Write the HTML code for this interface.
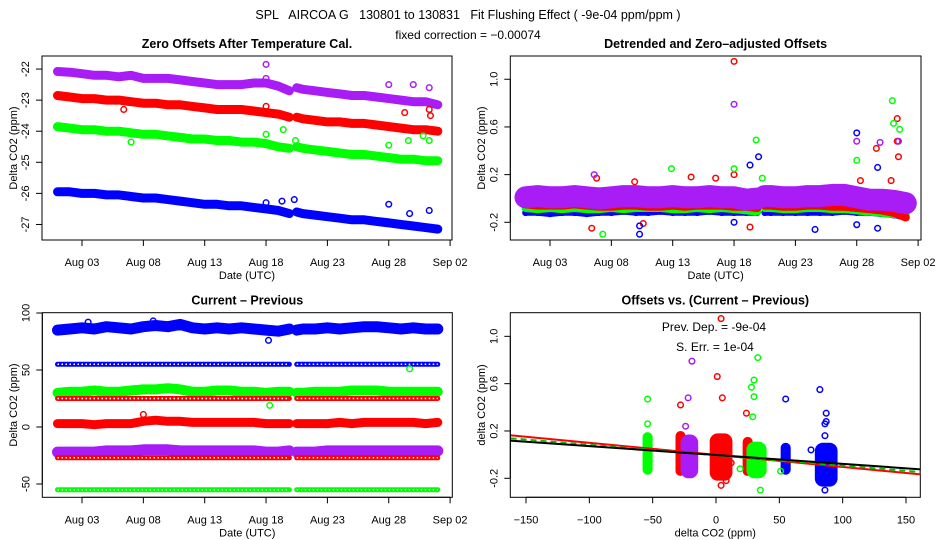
<!DOCTYPE html>
<html><head><meta charset="utf-8"><style>
body{margin:0;background:#fff}
svg{display:block;font-family:"Liberation Sans",sans-serif}
.t{font-size:11px}
.h{font-size:12.5px;font-weight:bold}
</style></head><body>
<svg id="c" width="936" height="540" viewBox="0 0 936 540">
<text x="468" y="19" text-anchor="middle" font-size="12.5" xml:space="preserve">SPL   AIRCOA G   130801 to 130831   Fit Flushing Effect ( -9e-04 ppm/ppm )</text>
<text x="468" y="39" text-anchor="middle" font-size="12">fixed correction = −0.00074</text>
</svg>
<script>
const T=[0,1,2,3,4,5,6,7,8,9,10,11,12,13,14,15,16,17,18,18.9,19.5,20,21,22,23,24,25,26,27,28,29,30,31];
const GAP_START=18.95;
const p1Purple=[-22.08,-22.1,-22.15,-22.2,-22.2,-22.25,-22.2,-22.3,-22.3,-22.3,-22.35,-22.4,-22.45,-22.5,-22.5,-22.5,-22.45,-22.45,-22.55,-22.7,-22.6,-22.65,-22.7,-22.75,-22.8,-22.85,-22.85,-22.9,-22.95,-23.0,-23.05,-23.05,-23.15];
const p1Red=[-22.85,-22.9,-22.95,-22.95,-23.0,-23.0,-23.05,-23.1,-23.1,-23.15,-23.15,-23.2,-23.25,-23.3,-23.3,-23.3,-23.35,-23.4,-23.45,-23.55,-23.55,-23.6,-23.65,-23.7,-23.7,-23.75,-23.75,-23.8,-23.85,-23.9,-23.95,-23.95,-24.0];
const p1Green=[-23.85,-23.9,-23.95,-23.95,-24.0,-24.0,-24.05,-24.1,-24.1,-24.15,-24.2,-24.25,-24.25,-24.3,-24.3,-24.35,-24.35,-24.4,-24.5,-24.55,-24.5,-24.55,-24.6,-24.65,-24.7,-24.75,-24.75,-24.8,-24.85,-24.9,-24.9,-24.95,-24.95];
const p1Blue=[-25.95,-25.95,-26.0,-26.0,-26.05,-26.05,-26.1,-26.15,-26.15,-26.2,-26.25,-26.3,-26.35,-26.35,-26.4,-26.4,-26.45,-26.5,-26.55,-26.65,-26.6,-26.65,-26.7,-26.75,-26.8,-26.85,-26.85,-26.9,-26.95,-27.0,-27.05,-27.1,-27.15];
const p1OutT=[17,17,27,29,30.3,28.3,30.3,30.4,5.4,17,6,17,18.4,27,28.6,29.8,30.3,19.4,17,18.3,19.3,27,28.7,30.3];
const p1OutV=[-21.85,-22.3,-22.5,-22.5,-22.6,-23.4,-23.3,-23.5,-23.3,-23.2,-24.35,-24.1,-23.95,-24.45,-24.3,-24.15,-24.3,-24.3,-26.3,-26.25,-26.2,-26.35,-26.65,-26.55];
const p1OutC=["p","p","p","p","p","r","r","r","r","r","g","g","g","g","g","g","g","g","b","b","b","b","b","b"];
const p2Blue=[-0.12,-0.12,-0.13,-0.12,-0.12,-0.13,-0.12,-0.12,-0.11,-0.12,-0.12,-0.11,-0.12,-0.12,-0.12,-0.11,-0.12,-0.12,-0.12,-0.12,-0.12,-0.12,-0.12,-0.12,-0.12,-0.12,-0.12,-0.11,-0.12,-0.12,-0.13,-0.14,-0.16];
const p2Green=[-0.08,-0.09,-0.08,-0.09,-0.08,-0.09,-0.09,-0.08,-0.09,-0.08,-0.08,-0.08,-0.09,-0.09,-0.08,-0.09,-0.08,-0.09,-0.1,-0.11,-0.08,-0.08,-0.09,-0.09,-0.08,-0.08,-0.09,-0.09,-0.1,-0.11,-0.12,-0.13,-0.14];
const p2Red=[-0.05,-0.06,-0.06,-0.06,-0.05,-0.06,-0.07,-0.07,-0.06,-0.06,-0.07,-0.07,-0.06,-0.07,-0.06,-0.06,-0.06,-0.07,-0.07,-0.08,-0.06,-0.06,-0.07,-0.07,-0.06,-0.06,-0.07,-0.07,-0.08,-0.09,-0.1,-0.12,-0.16];
const p2Purple=[0.01,0.02,0.01,0.01,0.02,0.01,0.0,0.01,0.02,0.02,0.01,0.01,0.02,0.01,0.01,0.02,0.01,0.01,-0.01,0.0,0.02,0.02,0.01,0.01,0.02,0.02,0.03,0.03,0.01,-0.01,-0.01,-0.02,-0.04];
const p2OutT=[17,17,18.3,5.4,5.8,8.9,13.5,15.5,27.3,28.6,29.8,30.3,30.3,30.4,9.6,17,27,28.9,30.4,5.6,17,18.8,29.9,30,30.5,27,11.9,6.3,19.3,19,18.3,27,28.7,28.7,27,9.3,9.3,23.6,17];
const p2OutV=[1.15,0.2,-0.24,-0.25,0.17,0.14,0.18,0.17,0.15,0.42,0.15,0.67,0.48,0.35,-0.21,0.79,0.48,0.47,0.48,0.2,0.25,0.49,0.82,0.63,0.58,0.32,0.25,-0.3,0.17,0.35,0.28,0.55,0.26,-0.25,-0.22,-0.3,-0.23,-0.26,-0.2];
const p2OutC=["r","r","r","r","r","r","r","r","r","r","r","r","r","r","r","p","p","p","p","p","g","g","g","g","g","g","g","g","g","b","b","b","b","b","b","b","b","b","b"];
const p3BlueNoisy=[85,86,87,86,88,87,86,88,89,88,90,87,86,87,86,87,86,85,84,86,85,86,86,87,86,87,88,88,87,86,87,86,86];
const p3BlueConst=[55,55,55,55,55,55,55,55,55,55,55,55,55,55,55,55,55,55,55,55,55,55,55,55,55,55,55,55,55,55,55,55,55];
const p3GreenNoisy=[30,31,31,32,31,31,32,33,33,34,33,31,31,32,32,31,31,30,31,31,30,30,31,31,31,32,32,32,31,31,31,31,31];
const p3RedConst=[25,25,25,25,25,25,25,25,25,25,25,25,25,25,25,25,25,25,25,25,25,25,25,25,25,25,25,25,25,25,25,25,25];
const p3RedNoisy=[3,3,3,2,3,3,3,5,6,5,5,4,4,4,4,4,4,3,3,3,3,3,3,3,4,3,4,4,4,4,4,3,4];
const p3Purple=[-22,-22,-22,-22,-21,-21,-21,-20,-20,-20,-21,-21,-21,-21,-21,-21,-21,-22,-22,-21,-22,-22,-22,-21,-21,-21,-21,-21,-21,-21,-21,-21,-21];
const p3RedConst2=[-27,-27,-27,-27,-27,-27,-27,-27,-27,-27,-27,-27,-27,-27,-27,-27,-27,-27,-27,-27,-27,-27,-27,-27,-27,-27,-27,-27,-27,-27,-27,-27,-27];
const p3GreenConst=[-55,-55,-55,-55,-55,-55,-55,-55,-55,-55,-55,-55,-55,-55,-55,-55,-55,-55,-55,-55,-55,-55,-55,-55,-55,-55,-55,-55,-55,-55,-55,-55,-55];
const p3OutT=[2.5,7.8,17.2,17.3,28.7,7.0];
const p3OutV=[92,93,76,19,51,11];
const p3OutC=["b","b","b","g","g","r"];
const p4ClX=[-54,-28,-21,4,25,32,55,87];
const p4ClMin=[-0.17,-0.18,-0.2,-0.22,-0.18,-0.2,-0.17,-0.27];
const p4ClMax=[0.19,0.2,0.17,0.18,0.15,0.11,0.1,0.1];
const p4ClW=[2,2,5,7,2,6,2,7];
const p4ClC=["g","r","p","r","r","g","b","b"];
const p4OutX=[-54,-54,33,30,28,30,29,35,19,51,-19,-22,-24,4,1,5,-28,24,4,8,12,55,82,87,87,86,86,86,75];
const p4OutV=[0.47,0.26,0.82,0.63,0.57,0.49,0.32,-0.3,-0.12,-0.14,0.79,0.48,0.24,1.15,0.66,0.48,0.42,0.35,-0.26,-0.22,-0.07,0.47,0.55,0.35,0.28,0.26,0.16,-0.3,0.04];
const p4OutC=["g","g","g","g","g","g","g","g","g","g","p","p","p","r","r","r","r","r","r","r","r","b","b","b","b","b","b","b","b"];
const fitSlopes=[-0.00102,-0.00088,-0.00075];
const fitIntercepts=[-0.002,-0.005,-0.003];
const fitColors=["red","#00c000","black"];

const COL={r:"#ff0000",g:"#00ff00",b:"#0000ff",p:"#a81cf6"};
const NS="http://www.w3.org/2000/svg";
const svg=document.getElementById("c");
function el(tag,attrs,parent){const e=document.createElementNS(NS,tag);for(const k in attrs)e.setAttribute(k,attrs[k]);(parent||svg).appendChild(e);return e;}
function txt(s,attrs,parent){const e=el("text",attrs,parent);e.textContent=s;return e;}
function panel(name,L,R,Tp,B,title,xmin,xmax,ymin,ymax){
  const g=el("g",{});
  
  
  const cid=name+"-clip";
  const cp=el("clipPath",{id:cid},g);el("rect",{x:L,y:Tp,width:R-L,height:B-Tp},cp);
  const sx=v=>L+(v-xmin)/(xmax-xmin)*(R-L), sy=v=>B-(v-ymin)/(ymax-ymin)*(B-Tp);
  const t=txt(title,{x:(L+R)/2,y:Tp-8,"text-anchor":"middle","class":"h"},g);
  
  
  const fr=el("rect",{x:L,y:Tp,width:R-L,height:B-Tp,fill:"none",stroke:"#000","stroke-width":1},g);
  
  
  const plot=el("g",{"clip-path":`url(#${cid})`},g);
  return {g,plot,sx,sy,L,R,Tp,B};
}
function yAxis(P,ticks,labels,title,tx){
  const ax=el("g",{},P.g);
  
  
  el("line",{x1:P.L,x2:P.L,y1:P.sy(ticks[0]),y2:P.sy(ticks[ticks.length-1]),stroke:"#000"},ax);
  ticks.forEach((v,i)=>{const y=P.sy(v);el("line",{x1:P.L-6,x2:P.L,y1:y,y2:y,stroke:"#000"},ax);
    const l=txt(labels[i],{x:0,y:0,"text-anchor":"middle","class":"t",transform:`translate(${P.L-13},${y}) rotate(-90)`},ax);
    
    });
  const yt=txt(title,{"text-anchor":"middle","font-size":"11",transform:`translate(${tx},${(P.Tp+P.B)/2}) rotate(-90)`},ax);
  
  
}
function xAxis(P,ticks,labels,title){
  const ax=el("g",{},P.g);
  
  
  el("line",{y1:P.B,y2:P.B,x1:P.sx(ticks[0]),x2:P.sx(ticks[ticks.length-1]),stroke:"#000"},ax);
  ticks.forEach((v,i)=>{const x=P.sx(v);el("line",{x1:x,x2:x,y1:P.B,y2:P.B+6,stroke:"#000"},ax);
    const l=txt(labels[i],{x:x,y:P.B+26,"text-anchor":"middle","class":"t"},ax);
    
    });
  const xt=txt(title,{x:(P.L+P.R)/2,y:P.B+39,"text-anchor":"middle","font-size":"11"},ax);
  
  
}
function series(P,xs,ys,c,bw,name,constant){
  const g=el("g",{},P.plot);
  
  
  let segs=[[]];
  xs.forEach((x,i)=>{if(i>0&&xs[i-1]<GAP_START&&x>GAP_START)segs.push([]);segs[segs.length-1].push(P.sx(x).toFixed(1)+","+P.sy(ys[i]).toFixed(1));});
  segs.forEach(s=>{
    el("polyline",{points:s.join(" "),fill:"none",stroke:c,"stroke-width":bw,"stroke-linejoin":"round","stroke-linecap":"round"},g);
    if(constant)el("polyline",{points:s.join(" "),fill:"none",stroke:"#fff","stroke-width":1.5,"stroke-dasharray":"1.5 2.5"},g);
  });
  if(!constant)xs.forEach((x,i)=>{el("circle",{cx:P.sx(x),cy:P.sy(ys[i]),r:2.6,fill:"none",stroke:c,"stroke-width":1.4},g);});
}
function outliers(P,xs,ys,cs,name){
  const g=el("g",{},P.plot);
  
  
  xs.forEach((x,i)=>{el("circle",{cx:P.sx(x),cy:P.sy(ys[i]),r:2.8,fill:"none",stroke:COL[cs[i]],"stroke-width":1.5},g);});
}
const dT=[2,7,12,17,22,27,32], dL=["Aug 03","Aug 08","Aug 13","Aug 18","Aug 23","Aug 28","Sep 02"];
function dayRange(L,R,x0){return [2-(x0-L)/12.27,2+(R-x0)/12.27];}
// Panel 1
let r=dayRange(42,452,82);
const P1=panel("zero-offsets-panel",42,452,56,240,"Zero Offsets After Temperature Cal.",r[0],r[1],-27.5,-21.58);
series(P1,T,p1Blue,COL.b,9,"series-blue");
series(P1,T,p1Green,COL.g,9,"series-green");
series(P1,T,p1Red,COL.r,9,"series-red");
series(P1,T,p1Purple,COL.p,9,"series-purple");
outliers(P1,p1OutT,p1OutV,p1OutC,"outlier-points");
yAxis(P1,[-27,-26,-25,-24,-23,-22],["-27","-26","-25","-24","-23","-22"],"Delta CO2 (ppm)",17);
xAxis(P1,dT,dL,"Date (UTC)");
// Panel 2
r=dayRange(510.3,921,550);
const P2=panel("detrended-offsets-panel",510.3,921,56,240,"Detrended and Zero\u2013adjusted Offsets",r[0],r[1],-0.2-(240-222.3)/119.2,-0.2+(240-56-17.7)/119.2);
series(P2,T,p2Blue,COL.b,6,"series-blue");
series(P2,T,p2Green,COL.g,8,"series-green");
series(P2,T,p2Red,COL.r,8,"series-red");
series(P2,T,p2Purple,COL.p,22,"series-purple");
outliers(P2,p2OutT,p2OutV,p2OutC,"outlier-points");
yAxis(P2,[-0.2,0.2,0.6,1.0],["-0.2","0.2","0.6","1.0"],"Delta CO2 (ppm)",485);
xAxis(P2,dT,dL,"Date (UTC)");
// Panel 3
r=dayRange(42.3,452.3,82);
const P3=panel("current-minus-previous-panel",42.3,452.3,312.7,497.3,"Current \u2013 Previous",r[0],r[1],-(497.3-427)/1.14,(427-312.7)/1.14);
series(P3,T,p3BlueNoisy,COL.b,11,"series-blue-noisy");
series(P3,T,p3BlueConst,COL.b,5,"series-blue-constant",true);
series(P3,T,p3GreenNoisy,COL.g,10,"series-green-noisy");
series(P3,T,p3RedConst,COL.r,5,"series-red-constant",true);
series(P3,T,p3RedNoisy,COL.r,9,"series-red-noisy");
series(P3,T,p3Purple,COL.p,11,"series-purple");
series(P3,T,p3RedConst2,COL.r,5,"series-red-constant-2",true);
series(P3,T,p3GreenConst,COL.g,5,"series-green-constant",true);
outliers(P3,p3OutT,p3OutV,p3OutC,"outlier-points");
yAxis(P3,[-50,0,50,100],["-50","0","50","100"],"Delta CO2 (ppm)",17);
xAxis(P3,dT,dL,"Date (UTC)");
// Panel 4
const P4=panel("offsets-vs-difference-panel",510.3,920.3,312.7,497.3,"Offsets vs. (Current \u2013 Previous)",(510.3-716)/1.2667,(920.3-716)/1.2667,-0.2-(497.3-478.3)/118.3,-0.2+(478.3-312.7)/118.3);
const cg=el("g",{},P4.plot);


p4ClX.forEach((x,i)=>{
  const x0=P4.sx(x-p4ClW[i])-2.5,x1=P4.sx(x+p4ClW[i])+2.5,y0=P4.sy(p4ClMax[i]),y1=P4.sy(p4ClMin[i]);
  const c=el("rect",{x:x0,y:y0,width:x1-x0,height:y1-y0,rx:Math.min(8,(x1-x0)/2),fill:COL[p4ClC[i]]},cg);
  
  
});
outliers(P4,p4OutX,p4OutV,p4OutC,"outlier-points");
fitSlopes.forEach((s,i)=>{
  const l=el("line",{x1:P4.sx(-170),y1:P4.sy(fitIntercepts[i]+s*-170),x2:P4.sx(170),y2:P4.sy(fitIntercepts[i]+s*170),stroke:fitColors[i],"stroke-width":2,"stroke-dasharray":i==1?"6 4":"none"},P4.plot);
  
  
});
const a1=txt("Prev. Dep. =  -9e-04",{x:714,y:331,"text-anchor":"middle","font-size":"12","xml:space":"preserve"},P4.g);


const a2=txt("S. Err. =  1e-04",{x:715,y:351,"text-anchor":"middle","font-size":"12","xml:space":"preserve"},P4.g);


yAxis(P4,[-0.2,0.2,0.6,1.0],["-0.2","0.2","0.6","1.0"],"delta CO2 (ppm)",485);
xAxis(P4,[-150,-100,-50,0,50,100,150],["\u2212150","\u2212100","\u221250","0","50","100","150"],"delta CO2 (ppm)");
</script>
</body></html>
